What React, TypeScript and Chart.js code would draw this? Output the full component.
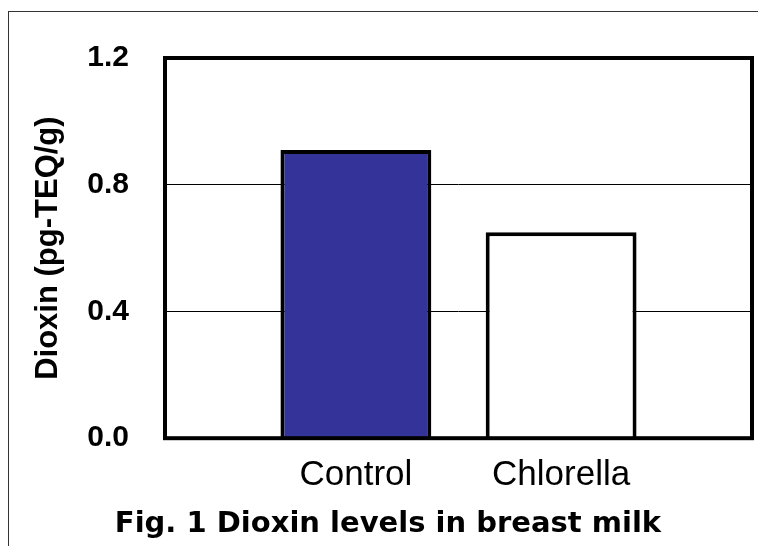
import React, { useEffect, useRef } from 'react';
import { Chart, registerables } from 'chart.js';

Chart.register(...registerables);

const categories = ['Control', 'Chlorella'];
const dioxinValues = [0.91, 0.65];
const barColors = ['#333399', '#ffffff'];
const yTickValues = [0, 0.4, 0.8, 1.2];
const yAxisTitle = 'Dioxin (pg-TEQ/g)';
const chartTitle = 'Fig. 1 Dioxin levels in breast milk';

const plotFrame = {
  id: 'plotFrame',
  afterDatasetsDraw(chart: any) {
    const { ctx, chartArea } = chart;
    const { left, top, right, bottom } = chartArea;
    ctx.save();
    ctx.strokeStyle = '#000000';
    ctx.lineWidth = 4;
    ctx.strokeRect(left, top, right - left, bottom - top);
    ctx.restore();
  },
};

export default function App() {
  const canvasRef = useRef<HTMLCanvasElement | null>(null);

  useEffect(() => {
    if (!canvasRef.current) return;
    const chart = new Chart(canvasRef.current, {
      type: 'bar',
      data: {
        datasets: [
          {
            data: categories.map((c, i) => ({ x: i, y: dioxinValues[i] })),
            backgroundColor: barColors,
            borderColor: '#000000',
            borderWidth: 4,
            borderSkipped: 'start',
            barPercentage: 0.735,
            categoryPercentage: 1,
          } as any,
        ],
      },
      options: {
        animation: false,
        responsive: false,
        devicePixelRatio: 1,
        layout: { padding: { left: 24, right: 6, top: 58, bottom: 4 } },
        plugins: {
          legend: { display: false },
          tooltip: { enabled: false },
          title: {
            display: true,
            position: 'bottom',
            text: chartTitle,
            color: '#000000',
            padding: 0,
            font: { family: 'DejaVu Sans', size: 29, weight: 'bold', lineHeight: 1.2 },
          },
        },
        scales: {
          x: {
            type: 'linear',
            offset: false,
            min: -0.93,
            max: 1.93,
            grid: { display: false, offset: false },
            border: { display: false },
            afterBuildTicks: (s: any) => {
              s.ticks = categories.map((_, i) => ({ value: i }));
            },
            afterFit: (s: any) => {
              s.height = 69;
            },
            ticks: {
              callback: (v: any) => categories[v] ?? '',
              color: '#000000',
              padding: 8,
              maxRotation: 0,
              autoSkip: false,
              font: { family: 'Liberation Sans', size: 35, lineHeight: 1.2 },
            },
          },
          y: {
            min: 0,
            max: 1.2,
            afterBuildTicks: (s: any) => {
              s.ticks = yTickValues.map((v) => ({ value: v }));
            },
            afterFit: (s: any) => {
              s.width = 141;
            },
            grid: { color: '#000000', lineWidth: 1, drawTicks: false },
            border: { display: false },
            ticks: {
              callback: (v: any) => Number(v).toFixed(1),
              color: '#000000',
              padding: 36,
              font: { family: 'Liberation Sans', size: 30, weight: 'bold' },
            },
            title: {
              display: true,
              text: yAxisTitle,
              color: '#000000',
              padding: { top: 6, bottom: 0 },
              font: { family: 'Liberation Sans', size: 31, weight: 'bold', lineHeight: 1.2 },
            },
          },
        },
      } as any,
      plugins: [plotFrame],
    });
    return () => chart.destroy();
  }, []);

  return (
    <div style={{ position: 'absolute', left: 0, top: 0, width: 758, height: 546, overflow: 'hidden', background: '#ffffff' }}>
      <div
        style={{
          position: 'absolute',
          left: 8,
          top: 11,
          width: 800,
          height: 600,
          borderLeft: '1px solid #333333',
          borderTop: '1px solid #333333',
        }}
      />
      <canvas
        ref={canvasRef}
        width={758}
        height={546}
        style={{ position: 'absolute', left: 0, top: 0, width: 758, height: 546, display: 'block' }}
      />
    </div>
  );
}
